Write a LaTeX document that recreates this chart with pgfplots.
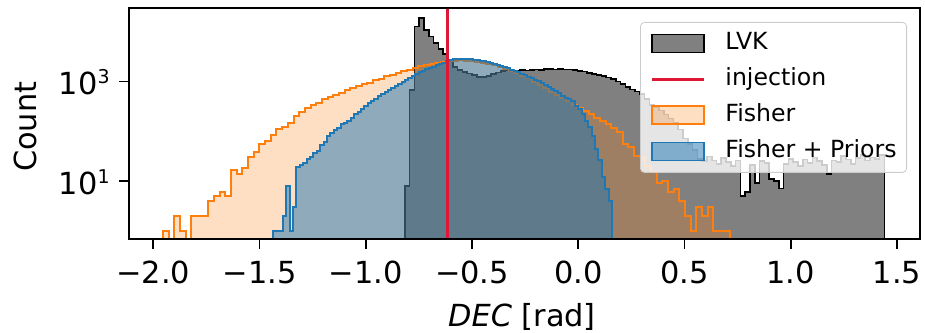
\documentclass[border=0pt]{standalone}
\usepackage{fontspec}
\setmainfont{DejaVu Sans}
\usepackage{pgfplots}
\usepackage{pgfplotstable}
\pgfplotsset{compat=1.18}
\definecolor{mplblue}{HTML}{1F77B4}
\definecolor{mplorange}{HTML}{FF7F0E}
\definecolor{lvkgray}{HTML}{808080}
\definecolor{injred}{RGB}{222,24,52}
\pgfplotsset{
  mypatch/.style={legend image code/.code={\draw[sharp corners,##1] (0pt,-4.5pt) rectangle (26pt,4.5pt);}},
  myline/.style={legend image code/.code={\draw[sharp corners,##1] (0pt,0pt) -- (26pt,0pt);}},
}
% LVK: 100 bins from -0.816, width 0.02256 (last row closes the last bin)
\pgfplotstableread{
c
8
680
13000
19000
11000
8200
6100
4600
3600
2600
1950
1720
1560
1450
1350
1260
1230
1290
1430
1540
1620
1700
1690
1660
1700
1690
1710
1760
1730
1790
1800
1770
1790
1750
1760
1710
1660
1590
1500
1430
1370
1300
1220
1120
1000
890
790
700
630
570
450
340
300
265
220
180
150
108
72
55
42
28
25
31
26
22
29
24
20
26
5
6
21
9
25
23
11
10
7
22
28
24
20
27
23
30
25
21
14
26
24
32
27
22
29
33
26
30
28
33
33
}\lvk
% Fisher: 100 bins from -1.954, width 0.0267
\pgfplotstableread{
c
1
0.01
2
1
0.01
2
2
2
4
5
6
5
17
14
18
30
38
55
64
85
110
125
150
200
240
300
340
380
440
500
550
600
680
730
820
880
960
1060
1140
1280
1360
1500
1650
1750
1900
2050
2150
2250
2400
2500
2600
2650
2680
2650
2600
2520
2400
2270
2130
1980
1820
1650
1480
1320
1160
1000
860
740
630
540
460
400
340
300
260
225
190
165
140
115
95
55
48
32
30
20
15
9
10
6
7
4
2
1
3
2
3
1
1
1
1
}\fisher
% Fisher + Priors: 100 bins from -1.438, width 0.01597
\pgfplotstableread{
c
1
1
1
2
8
1
3
19
21
23
28
31
36
40
52
62
80
92
105
116
140
150
165
185
220
250
285
330
370
405
455
510
560
620
690
740
820
900
1000
1080
1200
1320
1430
1550
1660
1800
1920
2020
2120
2230
2400
2600
2720
2820
2880
2900
2890
2860
2820
2770
2710
2650
2560
2460
2360
2260
2160
2060
1960
1860
1750
1650
1550
1450
1350
1260
1180
1100
1040
950
860
780
700
640
580
520
480
440
400
330
280
220
160
120
80
45
26
12
7
4
4
}\priors
\begin{document}
\begin{tikzpicture}
\useasboundingbox (-64.5pt,-46.5pt) rectangle (398pt,119.5pt);
\begin{axis}[
  at={(0pt,0pt)}, anchor=south west,
  scale only axis, width=395.5pt, height=115.5pt,
  ymode=log, log origin y=infty,
  xmin=-2.114, xmax=1.608, ymin=0.679, ymax=30500,
  axis on top,
  xtick={-2,-1.5,-1,-0.5,0,0.5,1,1.5},
  xticklabels={−2.0,−1.5,−1.0,−0.5,0.0,0.5,1.0,1.5},
  ytick={10,1000},
  yticklabels={{10\raisebox{5.5pt}{\fontsize{9.5}{11}\selectfont 1}},{10\raisebox{5.5pt}{\fontsize{9.5}{11}\selectfont 3}}},
  yminorticks=false, xminorticks=false,
  tick pos=left, tick align=outside, major tick length=5pt,
  tick style={line width=0.8pt, black},
  axis line style={line width=0.8pt},
  /pgf/number format/assume math mode=true,
  tick label style={font=\fontsize{15.2}{18}\selectfont},
  xticklabel style={anchor=base, inner sep=0pt, yshift=-17.2pt},
  yticklabel style={anchor=base east, inner sep=0pt, xshift=-4.5pt, yshift=-6.65pt},
  label style={font=\fontsize{15.2}{18}\selectfont},
  xlabel={\textit{DEC} [rad]},
  ylabel={Count},
  xlabel style={at={(axis description cs:0.4968,-0.3797)}, anchor=base},
  ylabel style={at={(axis description cs:-0.1168,0.486)}, anchor=base},
  legend cell align=left,
  legend style={at={(0.9836,0.9394)}, anchor=north east,
    draw=black!20, fill=white, fill opacity=0.8, draw opacity=1, text opacity=1,
    rounded corners=2pt, font=\fontsize{11.8}{14}\selectfont,
    inner xsep=5pt, inner ysep=5pt, row sep=7pt, column sep=10pt,
    nodes={inner sep=0pt, text height=8.6pt, text depth=2.4pt}},
]
\addlegendimage{mypatch, draw=black, fill=lvkgray, fill opacity=1, line width=0.9pt}
\addlegendentry{LVK}
\addlegendimage{myline, draw=injred, line width=1.5pt}
\addlegendentry{injection}
\addlegendimage{mypatch, draw=mplorange, fill=mplorange, fill opacity=0.25, line width=0.9pt}
\addlegendentry{Fisher}
\addlegendimage{mypatch, draw=mplblue, fill=mplblue, fill opacity=0.5, line width=0.9pt}
\addlegendentry{Fisher + Priors}

\addplot[forget plot, const plot, draw=black, fill=lvkgray, line width=0.8pt]
  table[x expr={-0.816+\coordindex*0.02256}, y=c] {\lvk} \closedcycle;
\addplot[forget plot, const plot, draw=mplorange, fill=mplorange, fill opacity=0.25, line width=1pt]
  table[x expr={-1.954+\coordindex*0.0267}, y=c] {\fisher} \closedcycle;
\addplot[forget plot, const plot, draw=mplblue, fill=mplblue, fill opacity=0.5, line width=1pt]
  table[x expr={-1.438+\coordindex*0.01597}, y=c] {\priors} \closedcycle;
\addplot[forget plot, draw=injred, line width=1.5pt] coordinates {(-0.615,0.1) (-0.615,100000)};
\end{axis}
\end{tikzpicture}
\end{document}
